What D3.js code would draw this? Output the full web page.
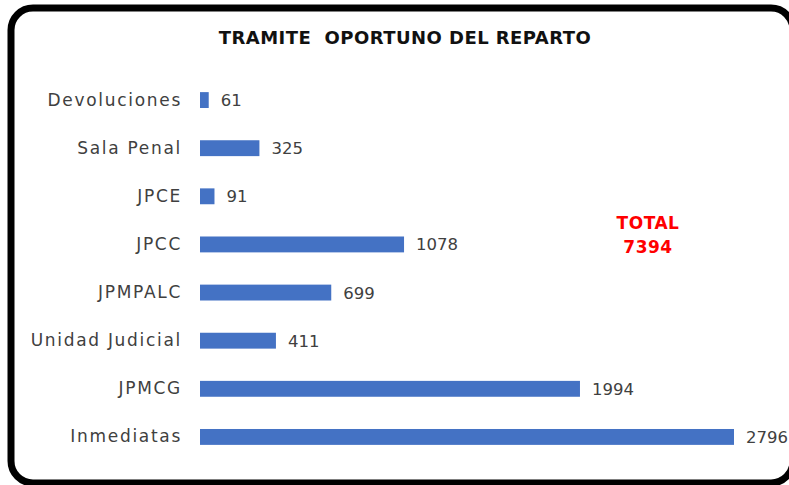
<!DOCTYPE html>
<html><head><meta charset="utf-8">
<script src="https://cdn.jsdelivr.net/npm/d3@7"></script>
<style>body{margin:0;background:#fff;}svg{display:block;}</style>
</head><body>
<svg id="c" width="789" height="485"></svg>
<script>
const categories = ["Devoluciones","Sala Penal","JPCE","JPCC","JPMPALC","Unidad Judicial","JPMCG","Inmediatas"];
const values = [61,325,91,1078,699,411,1994,2796];
const title = "TRAMITE  OPORTUNO DEL REPARTO";
const totalLines = ["TOTAL","7394"];

const svg = d3.select("#c");
const font = "'DejaVu Sans', sans-serif";
svg.append("rect").attr("x",11).attr("y",8).attr("width",782).attr("height",475)
  .attr("rx",22).attr("fill","#fff").attr("stroke","#000").attr("stroke-width",7);

svg.append("text").attr("x",405).attr("y",44).attr("text-anchor","middle")
  .attr("font-family",font).attr("font-weight",700).attr("font-size",18)
  .attr("letter-spacing",0.45).attr("fill","#111")
  .style("white-space","pre").text(title);

const x = d3.scaleLinear().domain([0,2796]).range([197,734]);
const y = d3.scaleBand().domain(categories).range([76,461]).paddingInner(0.67).paddingOuter(0.335);

svg.selectAll("rect.bar").data(values).join("rect").attr("class","bar")
  .attr("x",x(0)+3).attr("y",(d,i)=>y(categories[i]))
  .attr("width",d=>x(d)-x(0)-3).attr("height",y.bandwidth()).attr("fill","#4472C4");

const ax = svg.append("g").attr("transform",`translate(${x(0)},0)`)
  .call(d3.axisLeft(y).tickSize(0).tickPadding(15));
ax.select(".domain").remove();
ax.selectAll("text").attr("font-family",font).attr("font-size",17)
  .attr("letter-spacing",1.7).attr("fill","#404040");

svg.selectAll("text.val").data(values).join("text").attr("class","val")
  .attr("x",d=>x(d)+12).attr("y",(d,i)=>y(categories[i])+y.bandwidth()/2)
  .attr("dy","0.36em").attr("font-family",font).attr("font-size",16.5).attr("fill","#404040")
  .text(d=>d);

svg.selectAll("text.tot").data(totalLines).join("text").attr("class","tot")
  .attr("x",648).attr("y",(d,i)=>229+i*24).attr("text-anchor","middle")
  .attr("font-family",font).attr("font-weight",700).attr("font-size",17)
  .attr("letter-spacing",0.5).attr("fill","#FF0000")
  .text(d=>d);
</script>
</body></html>
